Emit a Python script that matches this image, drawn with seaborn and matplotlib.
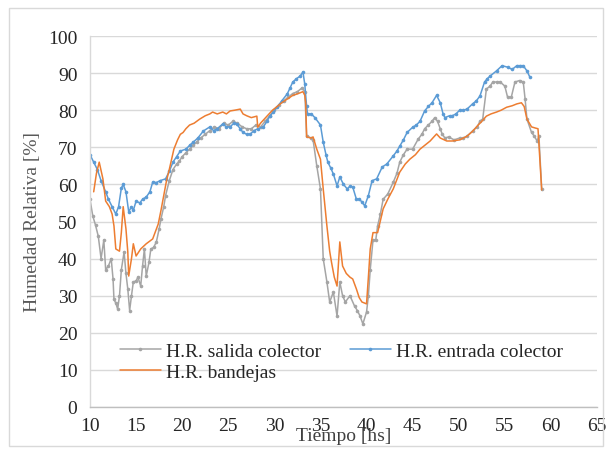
import numpy as np
import pandas as pd
import matplotlib
matplotlib.use("Agg")
import matplotlib.pyplot as plt
from matplotlib.patches import Rectangle
import seaborn as sns

# ---------------- data ----------------
t_salida = [10.0, 10.3, 10.6, 10.9, 11.2, 11.5, 11.7, 12.0, 12.3, 12.5, 12.6, 12.8, 13.0, 13.2, 13.4,
            13.7, 13.9, 14.1, 14.3, 14.5, 14.7, 15.0, 15.2, 15.5, 15.7, 15.9, 16.1, 16.4, 16.6, 16.9,
            17.2, 17.5, 17.7, 18.0, 18.2, 18.6, 19.0, 19.4, 19.7, 20.0, 20.4, 20.8, 21.2, 21.6, 22.0,
            22.5, 23.0, 23.5, 24.0, 24.5, 25.0, 25.5, 26.0, 26.5, 27.0, 27.5, 28.0, 28.5, 29.0, 29.5,
            30.0, 30.5, 31.0, 31.5, 32.0, 32.5, 33.0, 33.3, 33.5, 34.0, 34.2, 34.6, 35.0, 35.3, 35.7,
            36.0, 36.4, 36.8, 37.1, 37.4, 37.7, 38.2, 38.7, 39.0, 39.3, 39.6, 40.0, 40.2, 40.4, 40.7,
            41.0, 41.2, 41.5, 41.8, 42.3, 42.9, 43.3, 43.6, 44.0, 44.4, 45.0, 45.6, 46.0, 46.3, 46.7,
            47.1, 47.4, 47.7, 48.0, 48.2, 48.5, 48.9, 49.5, 50.1, 50.5, 50.9, 51.5, 52.0, 52.3, 52.6,
            53.0, 53.4, 53.7, 54.1, 54.5, 55.0, 55.3, 55.7, 56.1, 56.6, 57.0, 57.2, 57.4, 57.9, 58.2,
            58.5, 58.7, 59.0]
hr_salida = [56, 51.5, 49, 46, 40, 45, 37, 38, 40, 34.5, 29, 28, 26.4, 30, 37,
             41.8, 36, 31.8, 26, 30, 33.7, 34, 35, 32.6, 38, 42.6, 35.3, 39, 42.6, 43,
             44.5, 48, 50.7, 54, 57, 61, 64, 65.5, 66.3, 67.5, 68.5, 69.5, 70.5, 71.5, 72.5,
             73.5, 74.5, 75.5, 75, 76.5, 76, 77, 76.5, 75.5, 75, 75, 76, 75.5, 77, 78.5,
             80, 81.5, 82.5, 83.5, 84.5, 85, 86, 85, 73, 72.5, 72, 65, 58.8, 40, 33.7,
             28.3, 31, 24.5, 33.7, 30, 28.3, 30, 27.2, 26, 24.5, 22.4, 25.6, 30, 37, 45,
             45, 48.8, 52, 56, 57.4, 60.6, 63, 66, 68, 69.5, 69.5, 72.2, 73.5, 75, 76,
             77, 78, 77, 75, 73.6, 72.5, 72.8, 72, 72.5, 72.5, 73, 74.4, 75.5, 77, 77.6,
             85.7, 86.5, 87.6, 87.6, 87.6, 86.5, 83.5, 83.5, 87.6, 88, 87.6, 83, 77.6, 74, 73,
             71.7, 73, 58.8]

t_entrada = [10.0, 10.4, 10.8, 11.2, 11.7, 12.0, 12.4, 12.8, 13.1, 13.4, 13.6, 13.9, 14.2, 14.5, 14.7,
             15.0, 15.4, 15.7, 16.1, 16.5, 16.8, 17.2, 17.6, 18.2, 18.6, 19.0, 19.4, 19.8, 20.4, 20.8,
             21.2, 21.7, 22.3, 23.0, 23.4, 23.8, 24.4, 24.8, 25.2, 25.6, 25.9, 26.3, 26.6, 27.0, 27.4,
             27.8, 28.2, 28.8, 29.2, 29.5, 29.9, 30.3, 30.8, 31.4, 31.7, 32.0, 32.4, 32.8, 33.1, 33.3,
             33.5, 33.6, 34.0, 34.4, 35.0, 35.3, 35.6, 35.8, 36.1, 36.4, 36.8, 37.1, 37.5, 37.9, 38.2,
             38.5, 38.9, 39.2, 39.5, 39.8, 40.2, 40.6, 41.1, 41.7, 42.2, 42.9, 43.3, 43.6, 44.0, 44.4,
             45.0, 45.4, 45.8, 46.3, 46.7, 47.1, 47.6, 48.0, 48.3, 48.5, 49.0, 49.3, 49.7, 50.1, 50.5,
             50.9, 51.5, 51.9, 52.3, 52.8, 53.1, 53.4, 54.1, 54.7, 55.3, 55.8, 56.3, 56.7, 57.0, 57.4,
             57.7]
hr_entrada = [68, 66, 64, 61, 58, 56, 54, 52, 54, 59, 60, 58, 52.6, 54, 53,
              55.5, 55, 56, 56.6, 58, 60.6, 60.5, 61, 61.5, 63.5, 66, 67.5, 69, 69.5, 70.5,
              71.4, 72.5, 74.4, 75.5, 74.5, 75, 76.3, 75.5, 75.5, 76.5, 76.3, 75, 74, 73.5, 73.6,
              74.5, 75, 75.5, 77, 78.4, 79.5, 80.8, 82.5, 84.4, 86, 87.6, 88.5, 89.2, 90.3, 87,
              81, 79, 79, 78, 76, 71.4, 68, 66, 64.5, 62.8, 59.6, 62, 60, 58.8, 59.5,
              59.3, 56, 56, 55.3, 54.2, 57, 61, 61.5, 64.7, 65.5, 67.7, 69, 70.3, 72, 74,
              75.4, 76, 77, 79.8, 81, 82, 84, 82, 79, 78, 78.5, 78.5, 79, 80, 80,
              80.3, 81.7, 82.5, 83.8, 87.6, 88.5, 89.2, 90.6, 92, 91.6, 91, 92, 92, 92, 90.6,
              89]

t_bandejas = [10.4, 10.7, 11.0, 11.4, 11.7, 12.1, 12.4, 12.6, 12.8, 13.2, 13.4, 13.6, 13.9, 14.1, 14.2,
              14.5, 14.7, 15.0, 15.5, 16.1, 16.8, 17.4, 17.7, 18.0, 18.3, 18.6, 19.1, 19.5, 19.8, 20.1,
              20.4, 20.8, 21.3, 21.9, 22.5, 23.0, 23.3, 23.8, 24.4, 24.8, 25.2, 25.7, 26.3, 26.6, 27.0,
              27.5, 28.1, 28.2, 28.5, 29.2, 29.8, 30.3, 30.8, 31.4, 32.0, 32.5, 33.1, 33.3, 33.4, 33.5,
              34.0, 34.2, 34.6, 35.0, 35.3, 35.7, 36.0, 36.2, 36.5, 36.8, 37.1, 37.4, 37.8, 38.2, 38.5,
              38.9, 39.2, 39.5, 40.0, 40.2, 40.4, 40.7, 41.2, 41.8, 42.3, 42.9, 43.6, 44.2, 44.7, 45.3,
              45.8, 46.3, 46.9, 47.3, 47.6, 48.0, 48.7, 49.3, 50.1, 50.9, 51.5, 52.0, 52.5, 53.0, 53.5,
              54.1, 54.6, 55.2, 55.8, 56.3, 56.8, 57.1, 57.4, 57.9, 58.3, 58.6, 59.0]
hr_bandejas = [58, 63, 66, 61.5, 55.5, 54, 52, 48.8, 42.6, 42, 47, 54, 48, 41.8, 35.3,
               40, 44, 40.7, 42.6, 44, 45.3, 49.3, 53, 57, 61, 64, 69.5, 72, 73.5, 74,
               75, 76, 76.5, 77.6, 78.5, 79, 79.5, 79, 79.5, 79, 79.8, 80, 80.3, 79, 78.5,
               78, 78.4, 75.4, 76.5, 78.4, 80, 81, 82, 83, 84, 84.4, 85, 84, 82, 72.8,
               72.5, 72.8, 69.5, 66.8, 58.8, 48.8, 42, 39, 35, 32.6, 44.5, 38, 36, 35, 34.5,
               31.8, 29.5, 28.3, 27.8, 35, 42.6, 47, 47, 53.4, 56, 58.8, 63.3, 65.5, 66.8, 68,
               69.5, 70.5, 71.7, 72.8, 73.6, 72.5, 71.7, 71.7, 72, 73, 74.3, 75.7, 77, 78.4, 79,
               79.5, 80, 80.8, 81.2, 81.7, 82, 81, 77.6, 75.5, 75.2, 75, 58.5]

labels = ["H.R. salida colector", "H.R. entrada colector", "H.R. bandejas"]
x_ticks = [10, 15, 20, 25, 30, 35, 40, 45, 50, 55, 60, 65]
y_ticks = [0, 10, 20, 30, 40, 50, 60, 70, 80, 90, 100]

# ---------------- style ----------------
sns.set_theme(style="white")
plt.rcParams["font.family"] = ["Liberation Serif", "DejaVu Serif"]
FS = 14

fig = plt.figure(figsize=(6.11, 4.52), dpi=100)
ax = fig.add_axes([90 / 611, 1 - 408 / 452, (597 - 90) / 611, (408 - 37) / 452])

# outer chart border
fig.patches.append(Rectangle((9 / 611, 1 - 447 / 452), (603 - 9) / 611, (447 - 9) / 452,
                             transform=fig.transFigure, fill=False,
                             edgecolor="#D9D9D9", linewidth=1))

c_gray, c_blue, c_orange = "#A5A5A5", "#5B9BD5", "#ED7D31"

sns.lineplot(x=t_salida, y=hr_salida, ax=ax, color=c_gray, linewidth=1.1,
             marker="o", markersize=2.6, markeredgewidth=0, sort=False,
             estimator=None, label=labels[0])
sns.lineplot(x=t_entrada, y=hr_entrada, ax=ax, color=c_blue, linewidth=1.1,
             marker="o", markersize=2.6, markeredgewidth=0, sort=False,
             estimator=None, label=labels[1])
sns.lineplot(x=t_bandejas, y=hr_bandejas, ax=ax, color=c_orange, linewidth=1.1,
             sort=False, estimator=None, label=labels[2])

ax.set_xlim(10, 65)
ax.set_ylim(0, 100)
ax.set_xticks(x_ticks)
ax.set_yticks(y_ticks)
ax.set_xticklabels([str(v) for v in x_ticks], fontsize=FS, color="#262626")
ax.set_yticklabels([str(v) for v in y_ticks], fontsize=FS, color="#262626")
ax.tick_params(axis="y", length=0, pad=9)
ax.tick_params(axis="x", length=0, pad=7)
ax.yaxis.grid(True, color="#D9D9D9", linewidth=1)
ax.xaxis.grid(False)
ax.set_axisbelow(True)
for s in ["top", "right"]:
    ax.spines[s].set_visible(False)
ax.spines["left"].set_color("#D9D9D9")
ax.spines["bottom"].set_color("#BFBFBF")
ax.spines["left"].set_linewidth(1)
ax.spines["bottom"].set_linewidth(1)

ax.set_xlabel("Tiempo [hs]", fontsize=FS, color="#404040", labelpad=-5)
ax.set_ylabel("Humedad Relativa [%]", fontsize=FS, color="#595959", labelpad=5)

# legend: row-wise order (salida, entrada / bandejas)
h, l = ax.get_legend_handles_labels()
order = [0, 2, 1]
leg = ax.legend([h[i] for i in order], [l[i] for i in order], ncol=2,
                loc="upper left", bbox_to_anchor=(120 / 611, 1 - 343 / 452),
                bbox_transform=fig.transFigure, frameon=False, fontsize=FS,
                handlelength=2.1, handletextpad=0.25, columnspacing=1.5,
                labelspacing=0.2, borderpad=0, borderaxespad=0)
for txt in leg.get_texts():
    txt.set_color("#262626")

fig.savefig("out.png", dpi=100)
